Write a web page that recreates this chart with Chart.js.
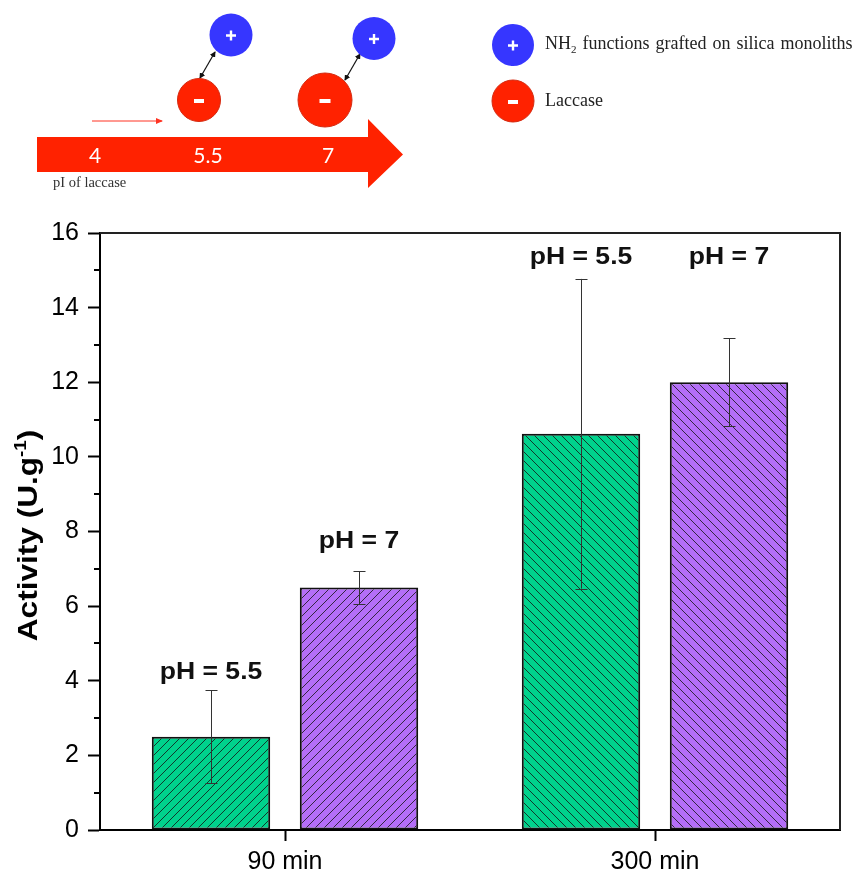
<!DOCTYPE html>
<html>
<head>
<meta charset="utf-8">
<script src="https://cdn.jsdelivr.net/npm/chart.js@4.4.1/dist/chart.umd.min.js"></script>
<style>
  body { margin: 0; background: #fff; }
  #wrap { position: relative; width: 860px; height: 884px; }
  #scheme { position: absolute; left: 0; top: 0; pointer-events: none; }
</style>
</head>
<body>
<div id="wrap">
  <canvas id="bar-chart" width="860" height="884"></canvas>
  <svg id="scheme" width="860" height="200">
    <defs>
      <marker id="tip" markerWidth="6" markerHeight="6" refX="5" refY="3" orient="auto-start-reverse" markerUnits="userSpaceOnUse">
        <path d="M0,0 L6,3 L0,6 z" fill="#111"/>
      </marker>
      <marker id="redtip" markerWidth="7" markerHeight="6" refX="6" refY="3" orient="auto" markerUnits="userSpaceOnUse">
        <path d="M0,0 L7,3 L0,6 z" fill="#ff3322"/>
      </marker>
    </defs>
    <!-- pH arrow -->
    <polygon points="37,137 368,137 368,119 403,154.5 368,188 368,172 37,172" fill="#ff2200"/>
    <g font-family="Lato, 'Open Sans', sans-serif" font-size="21" fill="#fff" text-anchor="middle">
      <text x="95" y="163">4</text>
      <text x="208" y="163">5.5</text>
      <text x="328" y="163">7</text>
    </g>
    <text x="53" y="187" font-family="'Liberation Serif', 'DejaVu Serif', serif" font-size="14.5" fill="#333">pI of laccase</text>
    <line x1="92" y1="121" x2="162" y2="121" stroke="#ff3322" stroke-width="1" marker-end="url(#redtip)"/>
    <!-- interactions -->
    <line x1="200" y1="78" x2="215" y2="52" stroke="#111" stroke-width="1.2" marker-start="url(#tip)" marker-end="url(#tip)"/>
    <line x1="345" y1="80" x2="360" y2="54" stroke="#111" stroke-width="1.2" marker-start="url(#tip)" marker-end="url(#tip)"/>
    <circle cx="199" cy="100" r="21.5" fill="#ff2200" stroke="#d42a10" stroke-width="1"/>
    <rect x="194" y="99" width="10" height="4" fill="#fff"/>
    <circle cx="325" cy="100" r="27" fill="#ff2200" stroke="#d42a10" stroke-width="1"/>
    <rect x="319.5" y="99" width="11" height="4" fill="#fff"/>
    <circle cx="231" cy="35" r="21.5" fill="#3636ff"/>
    <path d="M226,35.5 h10 M231,30.5 v10" stroke="#fff" stroke-width="2.4"/>
    <circle cx="374" cy="38.5" r="21.5" fill="#3636ff"/>
    <path d="M369,39 h10 M374,34 v10" stroke="#fff" stroke-width="2.4"/>
    <!-- legend -->
    <circle cx="513" cy="45" r="21" fill="#3636ff"/>
    <path d="M508,45.5 h10 M513,40.5 v10" stroke="#fff" stroke-width="2.4"/>
    <circle cx="513" cy="101" r="21" fill="#ff2200" stroke="#d42a10" stroke-width="1"/>
    <rect x="508" y="100" width="10" height="4" fill="#fff"/>
    <g font-family="'Liberation Serif', 'DejaVu Serif', serif" font-size="18" fill="#222">
      <text x="545" y="49" word-spacing="1.5">NH<tspan font-size="11" dy="4">2</tspan><tspan dy="-4"> functions grafted on silica monoliths</tspan></text>
      <text x="545" y="106">Laccase</text>
    </g>
  </svg>
</div>
<script>
// data
const times = ['90 min', '300 min'];
const phLabels = ['pH = 5.5', 'pH = 7'];
const activityPh55 = [2.5, 10.62];
const activityPh7 = [6.5, 12.0];
const errPh55 = [1.24, 4.15];
const errPh7 = [0.43, 1.18];
// where the pH text sits, in activity units
const labelAtPh55 = [4.23, 15.35];
const labelAtPh7 = [7.72, 15.34];

const greenFill = '#00d28c';
const purpleFill = '#b46ef8';

function hatch(color, dir) {
  const s = 9;
  const c = document.createElement('canvas');
  c.width = s; c.height = s;
  const g = c.getContext('2d');
  g.fillStyle = color;
  g.fillRect(0, 0, s, s);
  g.strokeStyle = 'rgba(20,20,20,0.8)';
  g.lineWidth = 1;
  g.beginPath();
  if (dir === '/') {
    g.moveTo(0, s); g.lineTo(s, 0);
    g.moveTo(-1, 1); g.lineTo(1, -1);
    g.moveTo(s - 1, s + 1); g.lineTo(s + 1, s - 1);
  } else {
    g.moveTo(0, 0); g.lineTo(s, s);
    g.moveTo(-1, s - 1); g.lineTo(1, s + 1);
    g.moveTo(s - 1, -1); g.lineTo(s + 1, 1);
  }
  g.stroke();
  return g.createPattern(c, 'repeat');
}

const ctx = document.getElementById('bar-chart').getContext('2d');
const greenPat = [hatch(greenFill, '/'), hatch(greenFill, '\\')];
const purplePat = [hatch(purpleFill, '/'), hatch(purpleFill, '\\')];

const extras = {
  id: 'extras',
  afterDatasetsDraw(chart) {
    const c = chart.ctx;
    const y = chart.scales.y;
    const area = chart.chartArea;
    const errs = [errPh55, errPh7];
    const labelAt = [labelAtPh55, labelAtPh7];
    c.save();
    // error bars
    chart.data.datasets.forEach((ds, di) => {
      chart.getDatasetMeta(di).data.forEach((bar, i) => {
        const v = ds.data[i];
        const top = y.getPixelForValue(v + errs[di][i]);
        const bot = y.getPixelForValue(v - errs[di][i]);
        const x = Math.round(bar.x) + 0.5;
        c.strokeStyle = '#333';
        c.lineWidth = 1;
        c.beginPath();
        c.moveTo(x, top); c.lineTo(x, bot);
        c.moveTo(x - 6, Math.round(top) + 0.5); c.lineTo(x + 6, Math.round(top) + 0.5);
        c.moveTo(x - 6, Math.round(bot) + 0.5); c.lineTo(x + 6, Math.round(bot) + 0.5);
        c.stroke();
        // pH text above the bar
        c.save();
        c.translate(bar.x, y.getPixelForValue(labelAt[di][i]));
        c.scale(1.13, 1);
        c.font = 'bold 23.5px "Liberation Sans", Arial, sans-serif';
        c.fillStyle = '#111';
        c.textAlign = 'center';
        c.textBaseline = 'middle';
        c.fillText(ds.label, 0, 0);
        c.restore();
      });
    });
    // frame top and right
    c.strokeStyle = '#222';
    c.lineWidth = 2;
    c.beginPath();
    c.moveTo(area.left, area.top); c.lineTo(area.right, area.top); c.lineTo(area.right, area.bottom);
    c.stroke();
    // minor ticks
    c.strokeStyle = '#000';
    for (let v = 1; v < 16; v += 2) {
      const py = Math.round(y.getPixelForValue(v));
      c.beginPath();
      c.moveTo(area.left - 6, py); c.lineTo(area.left, py);
      c.stroke();
    }
    // y title, with superscript
    const main = 'Activity (U.g';
    const sup = '-1';
    const close = ')';
    c.font = 'bold 27px "Liberation Sans", Arial, sans-serif';
    const w1 = c.measureText(main).width;
    const w3 = c.measureText(close).width;
    c.font = 'bold 16px "Liberation Sans", Arial, sans-serif';
    const w2 = c.measureText(sup).width;
    const total = w1 + w2 + w3;
    c.translate(27.5, 535.5);
    c.rotate(-Math.PI / 2);
    c.scale(1.17, 1);
    c.fillStyle = '#000';
    c.textBaseline = 'alphabetic';
    c.textAlign = 'left';
    let x0 = -total / 2;
    c.font = 'bold 27px "Liberation Sans", Arial, sans-serif';
    c.fillText(main, x0, 9.7);
    c.font = 'bold 16px "Liberation Sans", Arial, sans-serif';
    c.fillText(sup, x0 + w1, -1.5);
    c.font = 'bold 27px "Liberation Sans", Arial, sans-serif';
    c.fillText(close, x0 + w1 + w2, 9.7);
    c.restore();
  }
};

new Chart(ctx, {
  type: 'bar',
  data: {
    labels: times,
    datasets: [{
      label: phLabels[0],
      data: activityPh55,
      backgroundColor: greenPat,
      borderColor: '#111',
      borderWidth: 2,
      borderSkipped: false
    }, {
      label: phLabels[1],
      data: activityPh7,
      backgroundColor: purplePat,
      borderColor: '#111',
      borderWidth: 2,
      borderSkipped: false
    }]
  },
  options: {
    responsive: false,
    animation: false,
    layout: { padding: { top: 233, right: 20, left: 0, bottom: 0 } },
    datasets: { bar: { categoryPercentage: 0.8, barPercentage: 0.8 } },
    plugins: {
      legend: { display: false },
      tooltip: { enabled: false }
    },
    scales: {
      x: {
        afterFit(scale) { scale.height = 54; },
        grid: { offset: false, drawOnChartArea: false, drawTicks: true, tickLength: 11, tickWidth: 2, tickColor: '#000' },
        border: { display: true, color: '#000', width: 2 },
        ticks: { color: '#000', padding: 6, font: { size: 25, family: '"Liberation Sans", Arial, sans-serif' } }
      },
      y: {
        min: 0,
        max: 16,
        afterFit(scale) { scale.width = 100; },
        grid: { drawOnChartArea: false, drawTicks: true, tickLength: 12, tickWidth: 2, tickColor: '#000' },
        border: { display: true, color: '#000', width: 2 },
        ticks: { stepSize: 2, color: '#000', padding: 9, font: { size: 25, family: '"Liberation Sans", Arial, sans-serif' } }
      }
    }
  },
  plugins: [extras]
});
</script>
</body>
</html>
